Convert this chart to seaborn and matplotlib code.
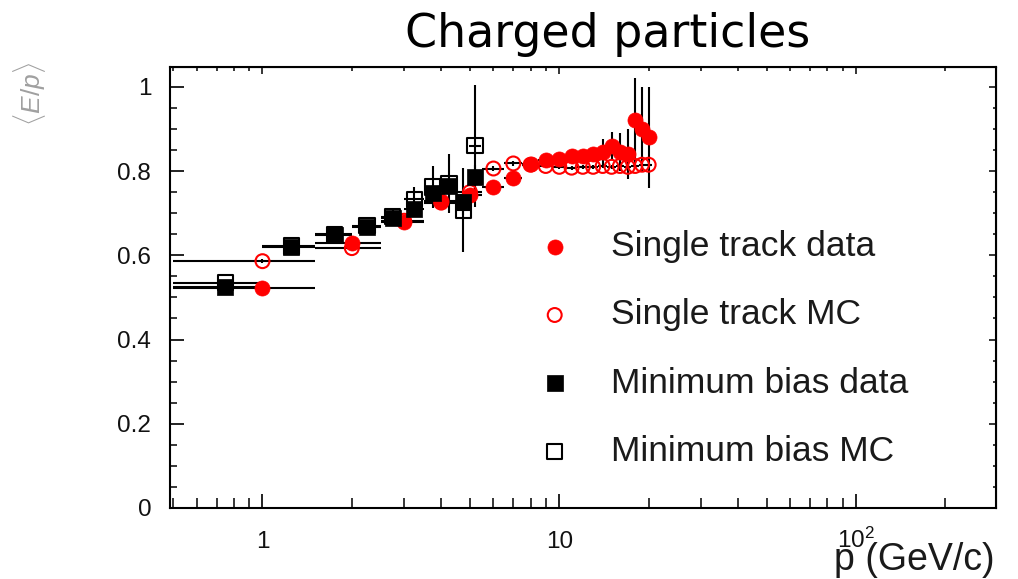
import numpy as np
import pandas as pd
import seaborn as sns
import matplotlib.pyplot as plt
from matplotlib.ticker import FixedLocator, FixedFormatter, MultipleLocator, NullFormatter, LogLocator

# single track sample, 1 GeV bins
st_p = [1, 2, 3, 4, 5, 6, 7, 8, 9, 10, 11, 12, 13, 14, 15, 16, 17, 18, 19, 20]
st_data = [0.522, 0.629, 0.678, 0.730, 0.742, 0.762, 0.783, 0.816, 0.826, 0.828,
           0.835, 0.835, 0.840, 0.845, 0.860, 0.845, 0.840, 0.920, 0.900, 0.880]
st_data_err = [0.004, 0.005, 0.006, 0.007, 0.008, 0.008, 0.008, 0.008, 0.008, 0.010,
               0.010, 0.012, 0.015, 0.032, 0.032, 0.045, 0.060, 0.100, 0.100, 0.120]
st_mc = [0.586, 0.617, 0.682, 0.725, 0.750, 0.806, 0.818, 0.815, 0.812, 0.810,
         0.808, 0.810, 0.810, 0.812, 0.810, 0.812, 0.810, 0.812, 0.815, 0.815]
st_mc_err = [0.004, 0.004, 0.005, 0.005, 0.005, 0.005, 0.005, 0.005, 0.005, 0.005,
             0.005, 0.005, 0.005, 0.005, 0.005, 0.005, 0.005, 0.005, 0.005, 0.005]

# minimum bias sample, 0.5 GeV bins
mb_p = [0.75, 1.25, 1.75, 2.25, 2.75, 3.25, 3.75, 4.25, 4.75, 5.2]
mb_data = [0.525, 0.620, 0.648, 0.667, 0.688, 0.709, 0.747, 0.764, 0.726, 0.785]
mb_data_err = [0.004, 0.005, 0.006, 0.007, 0.008, 0.010, 0.015, 0.020, 0.030, 0.030]
mb_mc = [0.535, 0.622, 0.650, 0.670, 0.692, 0.733, 0.762, 0.770, 0.707, 0.860]
mb_mc_err = [0.005, 0.008, 0.010, 0.012, 0.015, 0.030, 0.050, 0.070, 0.100, 0.145]

legend_labels = ["Single track data", "Single track MC", "Minimum bias data", "Minimum bias MC"]
x_major = [1, 10, 100]
x_major_labels = ["1", "10", "$10^{2}$"]
y_major = [0, 0.2, 0.4, 0.6, 0.8, 1.0]
y_major_labels = ["0", "0.2", "0.4", "0.6", "0.8", "1"]

sns.set_style("ticks")
plt.rcParams['font.family'] = ['Liberation Sans', 'DejaVu Sans']
plt.rcParams['mathtext.fontset'] = 'custom'
plt.rcParams['mathtext.rm'] = 'Liberation Sans'
plt.rcParams['mathtext.it'] = 'Liberation Sans:italic'

W, H = 1018, 579
fig = plt.figure(figsize=(W / 100, H / 100), dpi=100)
fig.patch.set_facecolor("white")
ax = fig.add_axes([170 / W, 1 - 508 / H, 826 / W, 441 / H])
ax.set_xscale("log")

# error bars (black, like ROOT)
eb = dict(fmt='none', ecolor='black', elinewidth=1.5, capsize=0, zorder=1)
ax.errorbar(st_p, st_mc, xerr=0.5, yerr=st_mc_err, **eb)
ax.errorbar(st_p, st_data, xerr=0.5, yerr=st_data_err, **eb)
ax.errorbar(mb_p, mb_mc, xerr=0.25, yerr=mb_mc_err, **eb)
ax.errorbar(mb_p, mb_data, xerr=0.25, yerr=mb_data_err, **eb)

sns.scatterplot(x=st_p, y=st_mc, marker='o', s=100, color='red', facecolor='none',
                edgecolor='red', linewidth=1.5, label="Single track MC", ax=ax, zorder=3)
sns.scatterplot(x=st_p, y=st_data, marker='o', s=118, color='red', edgecolor='red',
                linewidth=0.5, label="Single track data", ax=ax, zorder=4)
sns.scatterplot(x=mb_p, y=mb_mc, marker='s', s=120, color='black', facecolor='none',
                edgecolor='black', linewidth=1.5, label="Minimum bias MC", ax=ax, zorder=5)
sns.scatterplot(x=mb_p, y=mb_data, marker='s', s=130, color='black', edgecolor='black',
                linewidth=0.5, label="Minimum bias data", ax=ax, zorder=6)

ax.set_xlim(0.488, 296)
ax.set_ylim(0, 1.047)
ax.set_xlabel("")
ax.set_ylabel("")

ax.xaxis.set_major_locator(FixedLocator(x_major))
ax.xaxis.set_major_formatter(FixedFormatter(x_major_labels))
ax.xaxis.set_minor_locator(LogLocator(base=10, subs=np.arange(2, 10)))
ax.xaxis.set_minor_formatter(NullFormatter())
ax.yaxis.set_major_locator(FixedLocator(y_major))
ax.yaxis.set_major_formatter(FixedFormatter(y_major_labels))
ax.yaxis.set_minor_locator(MultipleLocator(0.05))

ax.tick_params(axis='x', which='major', direction='in', length=10, width=1.3,
               labelsize=17.5, pad=29, colors='#111111')
ax.tick_params(axis='x', which='minor', direction='in', length=7.5, width=1.3)
ax.tick_params(axis='y', which='major', direction='in', length=10, width=1.3,
               labelsize=17.5, pad=13.5, colors='#111111')
ax.tick_params(axis='y', which='minor', direction='in', length=5, width=1.3)
plt.setp(ax.get_xticklabels(), va='baseline')

for sp in ax.spines.values():
    sp.set_visible(True)
    sp.set_color('black')
    sp.set_linewidth(1.5)

top = ax.secondary_xaxis('top')
top.xaxis.set_major_locator(FixedLocator(x_major))
top.xaxis.set_minor_locator(LogLocator(base=10, subs=np.arange(2, 10)))
top.xaxis.set_major_formatter(NullFormatter())
top.xaxis.set_minor_formatter(NullFormatter())
top.tick_params(axis='x', which='major', direction='in', length=5, width=1.3)
top.tick_params(axis='x', which='minor', direction='in', length=3, width=1.3)

right = ax.secondary_yaxis('right')
right.yaxis.set_major_locator(FixedLocator(y_major))
right.yaxis.set_minor_locator(MultipleLocator(0.05))
right.yaxis.set_major_formatter(NullFormatter())
right.tick_params(axis='y', which='major', direction='in', length=5, width=1.3)
right.tick_params(axis='y', which='minor', direction='in', length=2.5, width=1.3)

handles, labels = ax.get_legend_handles_labels()
order = [labels.index(n) for n in legend_labels]
ax.legend([handles[i] for i in order], legend_labels, loc='center left',
          bbox_to_anchor=((537 - 170) / 826, (508 - 349) / 441), frameon=False,
          fontsize=25.5, handlelength=1.0, handletextpad=1.08, labelspacing=1.0,
          borderpad=0, borderaxespad=0, scatterpoints=1, labelcolor='#1a1a1a')

fig.text(995 / W, 1 - 570 / H, "p (GeV/c)", ha='right', va='baseline', fontsize=27, color='#1a1a1a')
fig.text(608 / W, 1 - 47 / H, "Charged particles", ha='center', va='baseline',
         fontsize=33, family='DejaVu Sans', color='black')
fig.text(30 / W, 1 - 62 / H, r"$\langle E/p\rangle$", rotation=90, ha='center', va='top',
         fontsize=19, color='#a0a0a0')

fig.savefig("out.png", dpi=100)
